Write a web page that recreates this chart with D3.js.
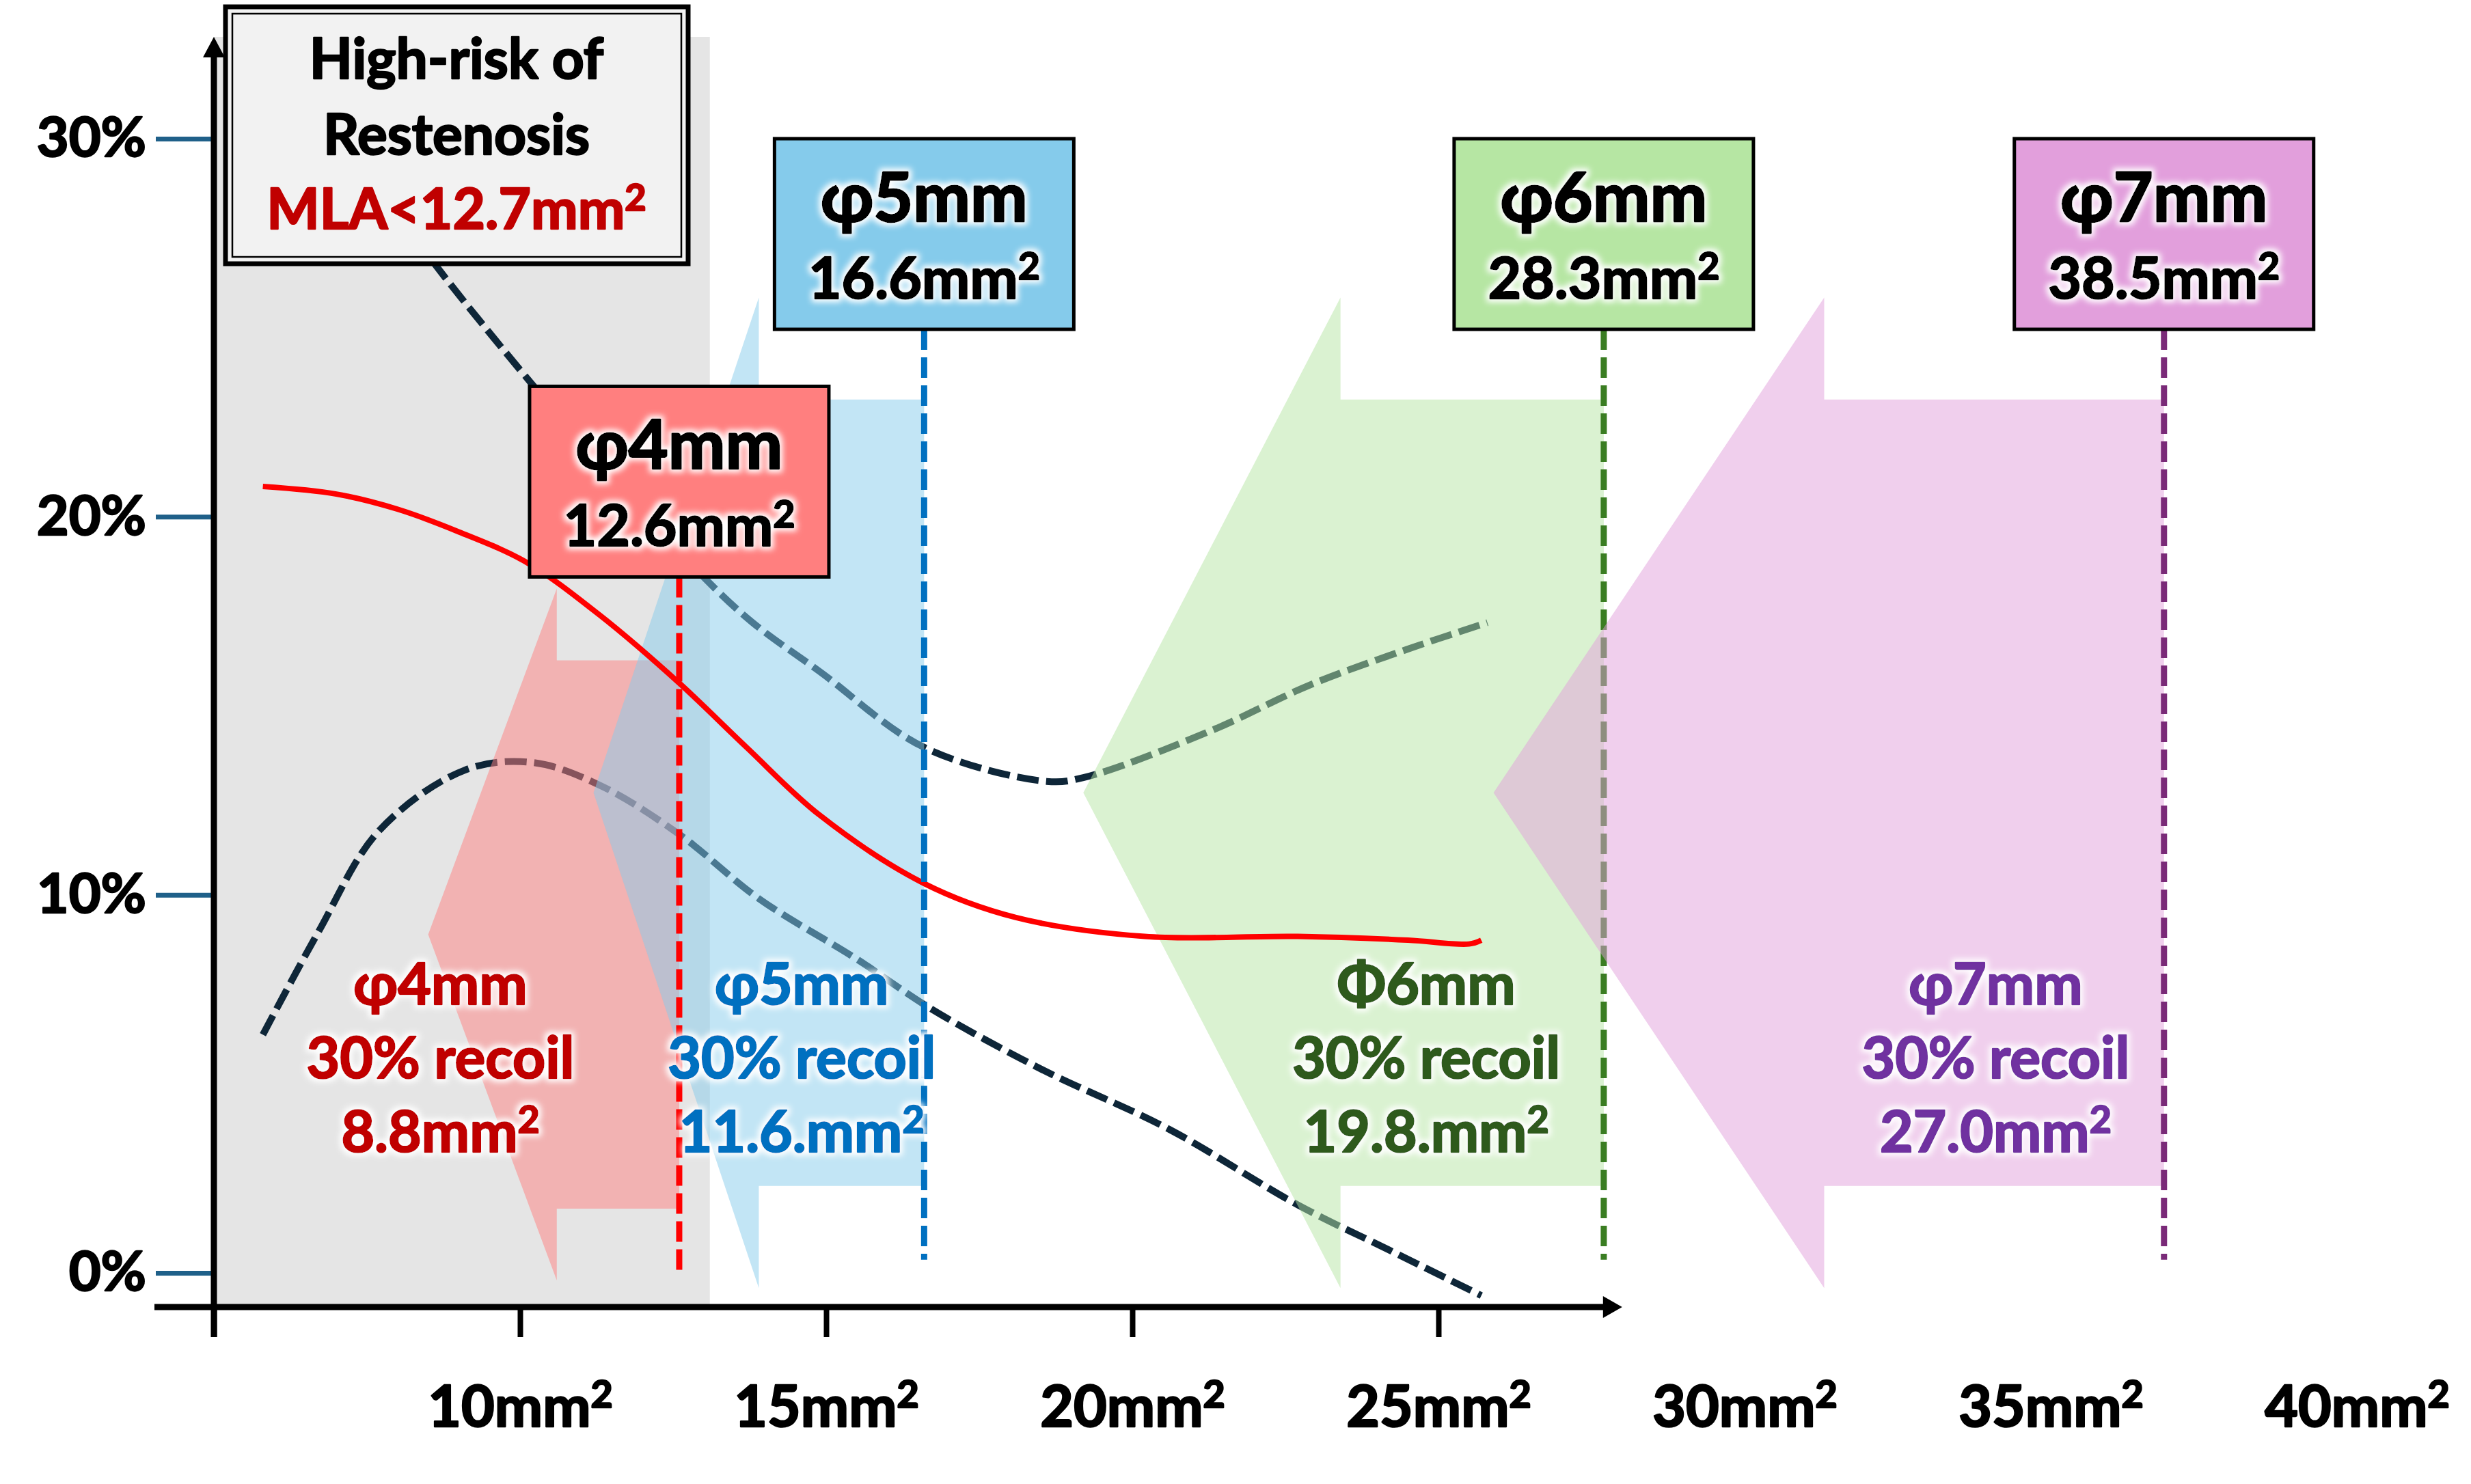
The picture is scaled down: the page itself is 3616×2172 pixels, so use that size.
<!DOCTYPE html>
<html>
<head>
<meta charset="utf-8">
<title>Stent diameter, recoil and restenosis</title>
<script src="https://d3js.org/d3.v7.min.js"></script>
<style>
    html, body { margin: 0; background: #fff; }
    svg text { font-family: Lato, "Open Sans", sans-serif; font-weight: bold; }
</style>
</head>
<body>
<svg id="svg"></svg>
<script>
    // axis values
    const xTickValues = [5, 10, 15, 20, 25];
    const xLabelValues = [10, 15, 20, 25, 30, 35, 40];
    const yTickValues = [0, 10, 20, 30];

    // curves: [area mm2, rate %]
    const redCurve = [[5.8, 20.8], [7.0, 20.6], [8.0, 20.2], [9.0, 19.6], [10.1, 18.8], [11.3, 17.4],
        [12.6, 15.6], [13.7, 13.9], [14.9, 12.1], [16.6, 10.3], [18.1, 9.4], [20.2, 8.9],
        [22.7, 8.9], [24.5, 8.8], [25.5, 8.7], [25.7, 8.8]];
    const upperDashed = [[8.3, 27.4], [8.6, 26.7], [10.2, 23.5], [11.6, 20.9], [13.0, 18.4], [13.8, 17.2],
        [14.9, 15.9], [16.6, 13.9], [18.6, 13.0], [19.2, 13.1], [21.3, 14.35], [22.9, 15.55],
        [24.5, 16.5], [25.8, 17.2]];
    const lowerDashed = [[5.8, 6.3], [6.7, 9.0], [7.7, 11.7], [9.1, 13.3], [10.2, 13.5], [11.3, 12.9],
        [12.6, 11.6], [13.9, 9.9], [15.5, 8.3], [16.7, 7.0], [18.5, 5.4], [20.6, 3.8],
        [22.7, 1.8], [24.2, 0.6], [25.7, -0.6]];

    // stent boxes
    const stentName = ["φ4mm", "φ5mm", "φ6mm", "φ7mm"];
    const stentArea = ["12.6mm²", "16.6mm²", "28.3mm²", "38.5mm²"];
    const markerX = [12.6, 16.6, 27.7, 36.85];
    const boxTop = [23.45, 30, 30, 30];

    // recoil labels
    const recoilName = ["φ4mm", "φ5mm", "Φ6mm", "φ7mm"];
    const recoilArea = ["8.8mm²", "11.6.mm²", "19.8.mm²", "27.0mm²"];
    const recoilX = [8.7, 14.6, 24.8, 34.1];
    const recoilY = 7.1;

    // recoil arrows (x in mm2, y in %)
    const arrowTip = [8.5, 11.2, 19.2, 25.9];
    const arrowBarb = [10.6, 13.9, 23.4, 31.3];
    const arrowMid = [8.95, 12.7, 12.7, 12.7];
    const arrowHead = [9.15, 13.1, 13.1, 13.1];
    const arrowShaft = [7.25, 10.4, 10.4, 10.4];

    const riskLimit = 13.1;

    const boxFill = ["#ff7f7f", "#85cbeb", "#b6e6a3", "#e29fdc"];
    const textColor = ["#c00000", "#0070c0", "#2f5a1b", "#7030a0"];
    const lineColor = ["#ff0000", "#0070c0", "#3a7d22", "#7a2a78"];

    const width = 3616, height = 2172;
    const axisY = 1913;

    const svg = d3.select("#svg")
        .attr("width", width)
        .attr("height", height);

    const x = d3.scaleLinear().domain([5, 40]).range([313, 3449]);
    const y = d3.scaleLinear().domain([0, 30]).range([1863, 203]);

    const defs = svg.append("defs");
    const glow = defs.append("filter").attr("id", "glow")
        .attr("x", "-20%").attr("y", "-40%").attr("width", "140%").attr("height", "180%");
    glow.append("feMorphology").attr("in", "SourceAlpha").attr("operator", "dilate").attr("radius", 4).attr("result", "d");
    glow.append("feGaussianBlur").attr("in", "d").attr("stdDeviation", 4).attr("result", "b");
    glow.append("feFlood").attr("flood-color", "#fff");
    glow.append("feComposite").attr("in2", "b").attr("operator", "in").attr("result", "g");
    const merge = glow.append("feMerge");
    merge.append("feMergeNode").attr("in", "g");
    merge.append("feMergeNode").attr("in", "SourceGraphic");

    // text with a real superscript 2 for "mm²", thickened to look heavier
    function setLabel(textSel, str, size) {
        const fill = textSel.attr("fill") || "#000";
        textSel.text(null)
            .attr("font-size", size)
            .attr("stroke", fill)
            .attr("stroke-width", size * 0.03)
            .attr("stroke-linejoin", "round");
        const parts = str.split("²");
        textSel.append("tspan").text(parts[0]);
        if (parts.length > 1) {
            textSel.append("tspan")
                .attr("font-size", size * 0.66)
                .attr("dy", -size * 0.33)
                .text("2");
        }
    }

    // high risk zone
    svg.append("rect")
        .attr("x", x(5)).attr("y", 54)
        .attr("width", x(riskLimit) - x(5))
        .attr("height", axisY - 54)
        .attr("fill", "#e5e5e5");

    const line = d3.line()
        .curve(d3.curveCatmullRom.alpha(0.5))
        .x(d => x(d[0]))
        .y(d => y(d[1]));

    [upperDashed, lowerDashed].forEach(c => {
        svg.append("path")
            .attr("d", line(c))
            .attr("fill", "none")
            .attr("stroke", "#0e2638")
            .attr("stroke-width", 10)
            .attr("stroke-dasharray", "32 11");
    });

    const arrowG = svg.append("g");
    const vlineG = svg.append("g");

    function vline(g, i) {
        g.append("line")
            .attr("x1", x(markerX[i])).attr("x2", x(markerX[i]))
            .attr("y1", y(boxTop[i]) + 279)
            .attr("y2", i === 0 ? y(-0.1) : y(0.35))
            .attr("stroke", lineColor[i])
            .attr("stroke-width", 9)
            .attr("stroke-dasharray", "30 11");
    }

    stentName.forEach((s, i) => {
        const m = arrowMid[i];
        const pts = [
            [arrowTip[i], m],
            [arrowBarb[i], m + arrowHead[i]],
            [arrowBarb[i], m + arrowShaft[i]],
            [markerX[i], m + arrowShaft[i]],
            [markerX[i], m - arrowShaft[i]],
            [arrowBarb[i], m - arrowShaft[i]],
            [arrowBarb[i], m - arrowHead[i]]
        ];
        arrowG.append("path")
            .attr("d", d3.line().x(d => x(d[0])).y(d => y(d[1]))(pts) + "Z")
            .attr("fill", boxFill[i])
            .attr("fill-opacity", 0.5);
        if (i === 2) vline(arrowG, i);
        else vline(vlineG, i);
    });

    svg.append("path")
        .attr("d", line(redCurve))
        .attr("fill", "none")
        .attr("stroke", "#ff0000")
        .attr("stroke-width", 8);

    // axes
    const yAxis = svg.append("g")
        .attr("transform", `translate(315,0)`)
        .call(d3.axisLeft(y).tickValues(yTickValues).tickSize(87).tickPadding(14).tickFormat(d => d + "%"));
    yAxis.select(".domain").remove();
    yAxis.selectAll("line").attr("stroke", "#1f6089").attr("stroke-width", 7);
    yAxis.selectAll("text").attr("fill", "#000")
        .each(function (d) { setLabel(d3.select(this), d + "%", 81); });

    const xTicks = svg.append("g")
        .attr("transform", `translate(0,${axisY})`)
        .call(d3.axisBottom(x).tickValues(xTickValues).tickSize(44).tickFormat(""));
    xTicks.select(".domain").remove();
    xTicks.selectAll("line").attr("stroke", "#000").attr("stroke-width", 8);

    const xLabels = svg.append("g")
        .attr("transform", `translate(0,${axisY})`)
        .call(d3.axisBottom(x).tickValues(xLabelValues).tickSize(0).tickFormat(d => d + "mm²"));
    xLabels.select(".domain").remove();
    xLabels.selectAll("text")
        .attr("y", 175).attr("dy", 0).attr("fill", "#000")
        .each(function (d) { setLabel(d3.select(this), d + "mm²", 84); });

    // axis lines with arrow heads
    svg.append("line").attr("x1", 226).attr("x2", x(27.85)).attr("y1", axisY).attr("y2", axisY)
        .attr("stroke", "#000").attr("stroke-width", 9);
    svg.append("path")
        .attr("d", `M${x(28.0)},${axisY} l-28,-16 l0,32 Z`).attr("fill", "#000");
    svg.append("line").attr("x1", x(5)).attr("x2", x(5)).attr("y1", 80).attr("y2", axisY + 44)
        .attr("stroke", "#000").attr("stroke-width", 9);
    svg.append("path")
        .attr("d", `M${x(5)},54 l-16,30 l32,0 Z`).attr("fill", "#000");

    vlineG.raise();

    // high risk label
    const riskG = svg.append("g");
    riskG.append("rect").attr("x", 330).attr("y", 10).attr("width", 677).attr("height", 376)
        .attr("fill", "#f2f2f2").attr("stroke", "#000").attr("stroke-width", 7);
    riskG.append("rect").attr("x", 340).attr("y", 20).attr("width", 657).attr("height", 356)
        .attr("fill", "none").attr("stroke", "#000").attr("stroke-width", 2.5);
    [["High-risk of", "#000", 115], ["Restenosis", "#000", 226], ["MLA<12.7mm²", "#c00000", 335]].forEach(t => {
        const tx = riskG.append("text").attr("x", 668).attr("y", t[2]).attr("text-anchor", "middle")
            .attr("fill", t[1]);
        setLabel(tx, t[0], 82);
    });

    // stent boxes
    stentName.forEach((s, i) => {
        const cx = x(markerX[i]);
        const top = y(boxTop[i]);
        svg.append("rect")
            .attr("x", cx - 219).attr("y", top)
            .attr("width", 438).attr("height", 279)
            .attr("fill", boxFill[i])
            .attr("stroke", "#000").attr("stroke-width", 5);
        const t1 = svg.append("text").attr("x", cx).attr("y", top + 121).attr("text-anchor", "middle")
            .attr("fill", "#000").attr("filter", "url(#glow)");
        setLabel(t1, s, 100);
        const t2 = svg.append("text").attr("x", cx).attr("y", top + 234).attr("text-anchor", "middle")
            .attr("fill", "#000").attr("filter", "url(#glow)");
        setLabel(t2, stentArea[i], 84);
    });

    // recoil labels
    recoilName.forEach((s, i) => {
        [s, "30% recoil", recoilArea[i]].forEach((t, k) => {
            const tx = svg.append("text")
                .attr("x", x(recoilX[i]))
                .attr("y", y(recoilY) + k * 108)
                .attr("text-anchor", "middle")
                .attr("fill", textColor[i])
                .attr("filter", "url(#glow)");
            setLabel(tx, t, 84);
        });
    });
</script>
</body>
</html>
